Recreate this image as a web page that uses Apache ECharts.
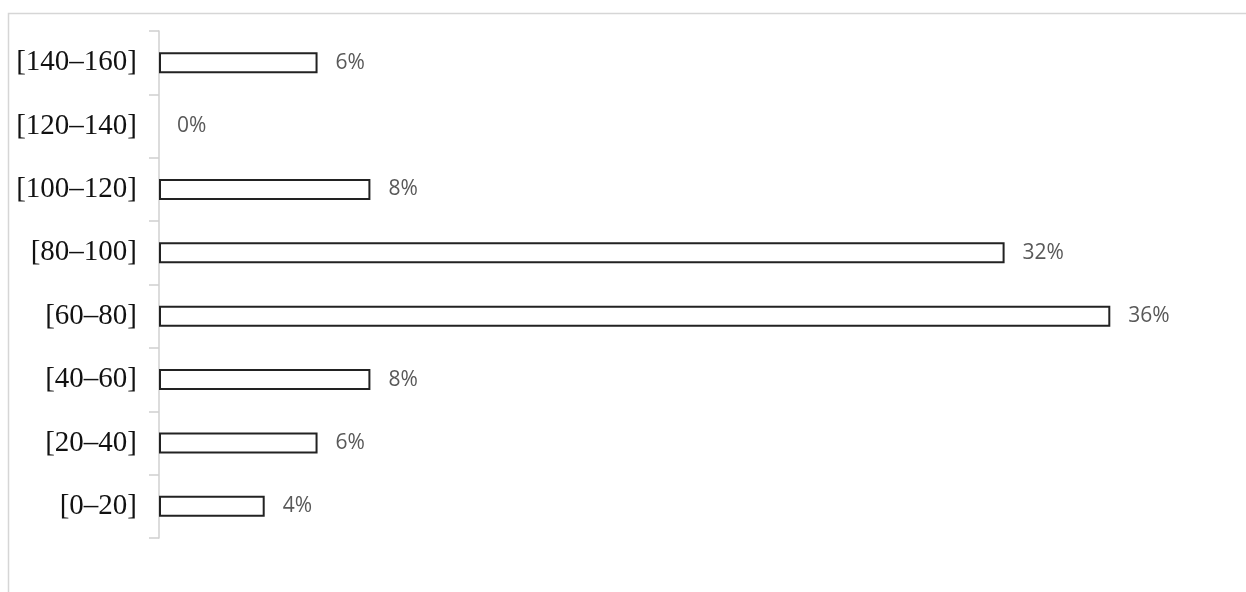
<!DOCTYPE html>
<html>
<head>
<meta charset="utf-8">
<script src="https://cdn.jsdelivr.net/npm/echarts@6/dist/echarts.min.js"></script>
<style>
  html, body { margin: 0; padding: 0; background: #fff; }
  #chart { width: 1246px; height: 592px; }
</style>
</head>
<body>
<div id="chart"></div>
<script>
// 区间分类（从下到上）
var categories = ['[0–20]', '[20–40]', '[40–60]', '[60–80]', '[80–100]', '[100–120]', '[120–140]', '[140–160]']
// 百分比
var percents = [4, 6, 8, 36, 32, 8, 0, 6]

var chart = echarts.init(document.getElementById('chart'))

var option = {
  animation: false,
  graphic: [
    {
      type: 'rect',
      silent: true,
      shape: { x: 8.5, y: 13.5, width: 1400, height: 800 },
      style: { fill: 'none', stroke: '#d6d6d6', lineWidth: 1.5 }
    }
  ],
  grid: {
    left: 159,
    right: 30,
    top: 31,
    bottom: 54
  },
  xAxis: {
    type: 'value',
    min: 0,
    max: 40,
    show: false
  },
  yAxis: {
    type: 'category',
    data: categories,
    axisLine: {
      show: true,
      lineStyle: { color: '#d0d0d0', width: 1.5 }
    },
    axisTick: {
      show: true,
      length: 10,
      lineStyle: { color: '#d0d0d0', width: 1.5 }
    },
    axisLabel: {
      margin: 22,
      color: '#111',
      fontFamily: 'Liberation Serif',
      fontSize: 29
    },
    splitLine: { show: false }
  },
  series: [
    {
      type: 'bar',
      barWidth: 21,
      data: percents.map(function (v) {
        // 0 值的柱子不画边框
        return v === 0 ? { value: v, itemStyle: { borderWidth: 0 } } : v
      }),
      itemStyle: {
        color: '#ffffff',
        borderColor: '#222',
        borderWidth: 2
      },
      label: {
        show: true,
        position: 'right',
        distance: 18,
        formatter: '{c}%',
        color: '#595959',
        fontFamily: 'Open Sans',
        fontSize: 21
      }
    }
  ]
}

chart.setOption(option)
</script>
</body>
</html>
